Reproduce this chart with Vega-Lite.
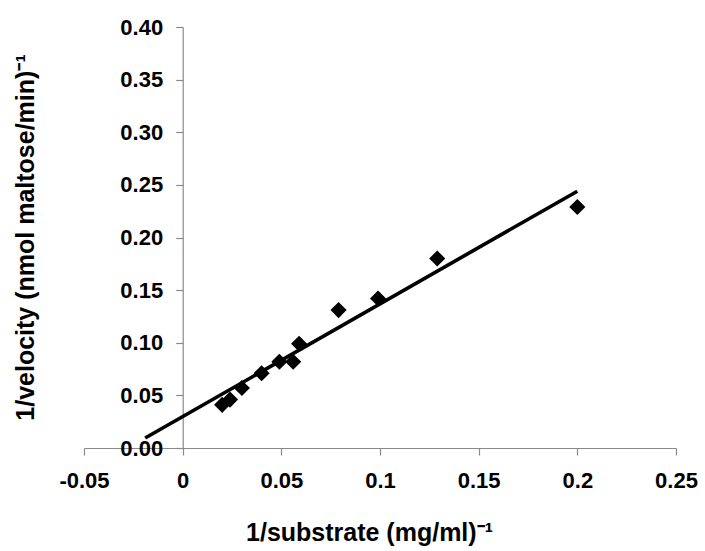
{
  "$schema": "https://vega.github.io/schema/vega-lite/v6.json",
  "width": 592,
  "height": 421,
  "autosize": {"type": "none"},
  "padding": {"left": 84, "top": 27, "right": 29, "bottom": 103},
  "background": "white",
  "config": {
    "view": {"stroke": null},
    "font": "Liberation Sans",
    "axis": {
      "grid": false,
      "domainColor": "#8a8a8a",
      "tickColor": "#8a8a8a",
      "domainWidth": 1.2,
      "tickWidth": 1.2,
      "tickSize": 7,
      "labelFont": "Liberation Sans",
      "labelFontSize": 22,
      "labelFontWeight": "bold",
      "labelColor": "black",
      "titleFont": "Liberation Sans",
      "titleFontSize": 25,
      "titleFontWeight": "bold",
      "titleColor": "black"
    }
  },
  "datasets": {
    "points": [
      {"inv_s": 0.02, "inv_v": 0.041},
      {"inv_s": 0.024, "inv_v": 0.046},
      {"inv_s": 0.03, "inv_v": 0.057},
      {"inv_s": 0.04, "inv_v": 0.071},
      {"inv_s": 0.049, "inv_v": 0.082},
      {"inv_s": 0.056, "inv_v": 0.082},
      {"inv_s": 0.059, "inv_v": 0.099},
      {"inv_s": 0.079, "inv_v": 0.131},
      {"inv_s": 0.099, "inv_v": 0.142},
      {"inv_s": 0.129, "inv_v": 0.18},
      {"inv_s": 0.2, "inv_v": 0.229}
    ],
    "fit": [
      {"inv_s": -0.019, "inv_v": 0.0095},
      {"inv_s": 0.2, "inv_v": 0.244}
    ]
  },
  "layer": [
    {
      "data": {"name": "fit"},
      "mark": {"type": "line", "color": "black", "strokeWidth": 3.6, "clip": false},
      "encoding": {
        "x": {
          "field": "inv_s", "type": "quantitative",
          "scale": {"domain": [-0.05, 0.25], "nice": false, "zero": false},
          "axis": {
            "values": [-0.05, 0, 0.05, 0.1, 0.15, 0.2, 0.25],
            "labelExpr": "replace(format(datum.value, '~g'), '\u2212', '-')",
            "labelPadding": 15,
            "labelFlush": false,
            "labelOverlap": false,
            "title": "1/substrate (mg/ml)\u207b\u00b9",
            "titleX": 285,
            "titleY": 92,
            "titleAlign": "center",
            "titleBaseline": "alphabetic"
          }
        },
        "y": {
          "field": "inv_v", "type": "quantitative",
          "scale": {"domain": [0, 0.4], "nice": false},
          "axis": {
            "values": [0, 0.05, 0.1, 0.15, 0.2, 0.25, 0.3, 0.35, 0.4],
            "format": ".2f",
            "offset": -98.7,
            "labelPadding": 13,
            "labelFlush": false,
            "labelOverlap": false,
            "title": "1/velocity (nmol maltose/min)\u207b\u00b9",
            "titleAngle": -90,
            "titleX": -149,
            "titleY": 210,
            "titleAlign": "center",
            "titleBaseline": "alphabetic"
          }
        }
      }
    },
    {
      "data": {"name": "points"},
      "mark": {"type": "point", "shape": "diamond", "filled": true, "color": "black", "opacity": 1, "size": 260},
      "encoding": {
        "x": {"field": "inv_s", "type": "quantitative"},
        "y": {"field": "inv_v", "type": "quantitative"}
      }
    }
  ]
}
